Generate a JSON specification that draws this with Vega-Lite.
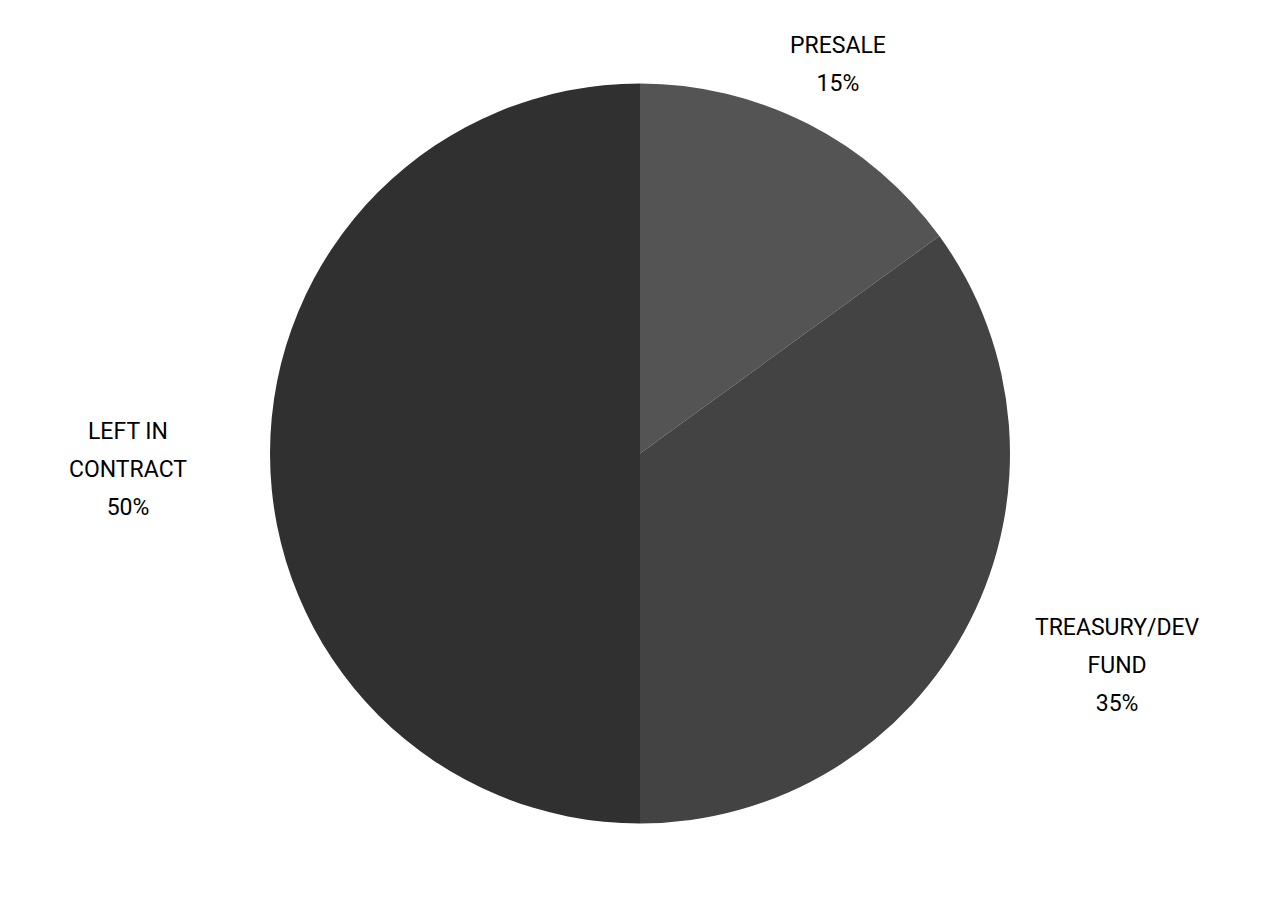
{
  "$schema": "https://vega.github.io/schema/vega-lite/v6.json",
  "width": 1280,
  "height": 907,
  "autosize": {"type": "none"},
  "padding": 0,
  "background": "white",
  "view": {"stroke": null},
  "data": {
    "values": [
      {"category": "Presale", "label": "PRESALE\n15%", "value": 15, "order": 1},
      {"category": "Treasury/Dev Fund", "label": "TREASURY/DEV\nFUND\n35%", "value": 35, "order": 2},
      {"category": "Left in Contract", "label": "LEFT IN\nCONTRACT\n50%", "value": 50, "order": 3}
    ]
  },
  "encoding": {
    "theta": {"field": "value", "type": "quantitative", "stack": true},
    "order": {"field": "order", "type": "quantitative"}
  },
  "layer": [
    {
      "mark": {"type": "arc", "outerRadius": 370, "stroke": null},
      "encoding": {
        "color": {
          "field": "category",
          "type": "nominal",
          "scale": {"domain": ["Presale", "Treasury/Dev Fund", "Left in Contract"], "range": ["#545454", "#434343", "#303030"]},
          "legend": null
        }
      }
    },
    {
      "mark": {"type": "text", "radius": 436, "dy": -19, "lineBreak": "\n", "lineHeight": 38, "fontSize": 23, "font": "Roboto", "color": "#000000", "align": "center", "baseline": "middle"},
      "encoding": {"text": {"condition": {"test": "datum.order == 1", "field": "label"}, "value": ""}}
    },
    {
      "mark": {"type": "text", "radius": 522, "dx": 12, "dy": -62, "lineBreak": "\n", "lineHeight": 38, "fontSize": 23, "font": "Roboto", "color": "#000000", "align": "center", "baseline": "middle"},
      "encoding": {"text": {"condition": {"test": "datum.order == 2", "field": "label"}, "value": ""}}
    },
    {
      "mark": {"type": "text", "radius": 512, "dy": -22, "lineBreak": "\n", "lineHeight": 38, "fontSize": 23, "font": "Roboto", "color": "#000000", "align": "center", "baseline": "middle"},
      "encoding": {"text": {"condition": {"test": "datum.order == 3", "field": "label"}, "value": ""}}
    }
  ]
}
